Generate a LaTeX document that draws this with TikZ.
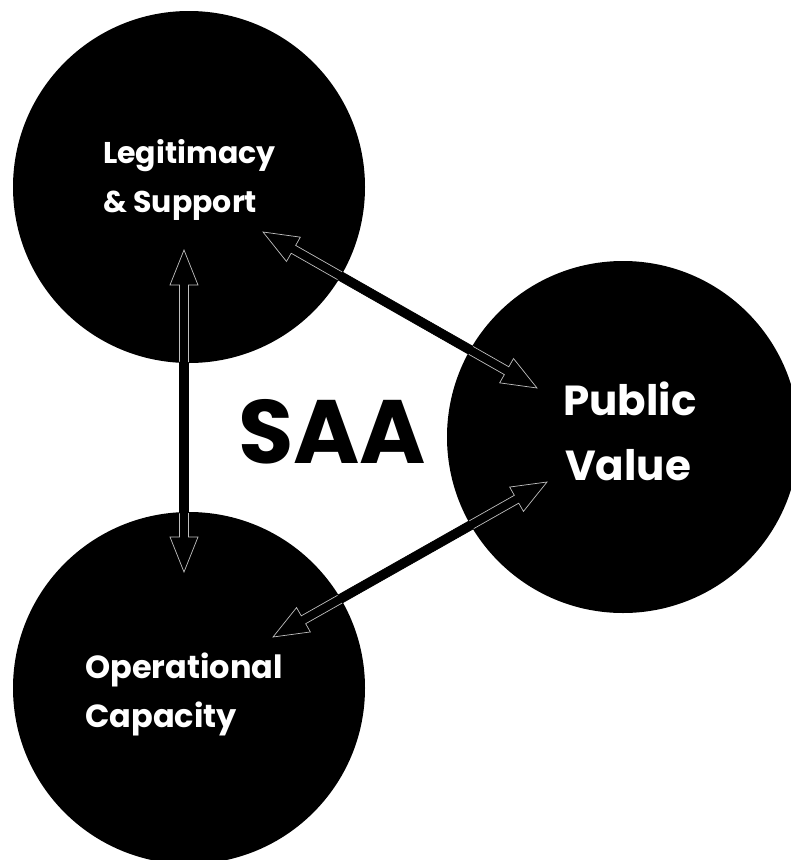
\documentclass[tikz,border=0pt]{standalone}
\usepackage{fontspec}
\setmainfont{Poppins}
\usetikzlibrary{calc}
\newcommand\twohead[3]{%
\filldraw[#3] (#1)
 -- ($(#1)!35pt!(#2)!14pt!90:(#2)$)
 -- ($(#1)!35pt!(#2)!4.5pt!90:(#2)$)
 -- ($(#2)!35pt!(#1)!4.5pt!-90:(#1)$)
 -- ($(#2)!35pt!(#1)!14pt!-90:(#1)$)
 -- (#2)
 -- ($(#2)!35pt!(#1)!14pt!90:(#1)$)
 -- ($(#2)!35pt!(#1)!4.5pt!90:(#1)$)
 -- ($(#1)!35pt!(#2)!4.5pt!-90:(#2)$)
 -- ($(#1)!35pt!(#2)!14pt!-90:(#2)$)
 -- cycle;}
\begin{document}
\begin{tikzpicture}[x=1pt,y=-1pt,
  disc/.style={circle,fill=black,draw=none,inner sep=0pt,minimum size=352pt},
  arr/.style={fill=black,draw=black,line width=0.7pt,line join=miter},
  arrin/.style={fill=black,draw=black!25,line width=0.7pt,line join=miter},
  lbl/.style={text=white,font=\bfseries\fontsize{30}{36}\selectfont,inner sep=0pt,anchor=base west},
  oplbl/.style={lbl,font=\bfseries\fontsize{32}{38}\selectfont},
  pvlbl/.style={text=white,font=\bfseries\fontsize{42}{50}\selectfont,inner sep=0pt,anchor=base west},
  big/.style={text=black,font=\bfseries\fontsize{90}{100}\selectfont,inner sep=0pt,anchor=base west}]
\useasboundingbox (0,0) rectangle (791,860);
\clip (0,0) rectangle (791,860);
\fill[white] (0,0) rectangle (791,860);
\node[disc] (L) at (189,187) {};
\node[disc] (P) at (623,437) {};
\node[disc] (O) at (189,688) {};
\coordinate (lv1) at (184,250);
\coordinate (lv2) at (184,572);
\coordinate (lp1) at (263,232);
\coordinate (lp2) at (537,388);
\coordinate (op1) at (273,637);
\coordinate (op2) at (547,482);
\twohead{lv1}{lv2}{arr}
\twohead{lp1}{lp2}{arr}
\twohead{op1}{op2}{arr}
\begin{scope}
\clip (L) circle[radius=175pt] (P) circle[radius=175pt] (O) circle[radius=175pt];
\twohead{lv1}{lv2}{arrin}
\twohead{lp1}{lp2}{arrin}
\twohead{op1}{op2}{arrin}
\end{scope}
\node[lbl] (L1) at (103,163) {Legitimacy};
\node[lbl] (L2) at (103,212) {\& Support};
\node[oplbl] (O1) at (85,678) {Operational};
\node[oplbl] (O2) at (85,727) {Capacity};
\node[pvlbl] (P1) at (563,415) {Public};
\node[pvlbl] (P2) at (565,480) {Value};
\node[big] (S) at (238,463) {SAA};
\end{tikzpicture}
\end{document}
